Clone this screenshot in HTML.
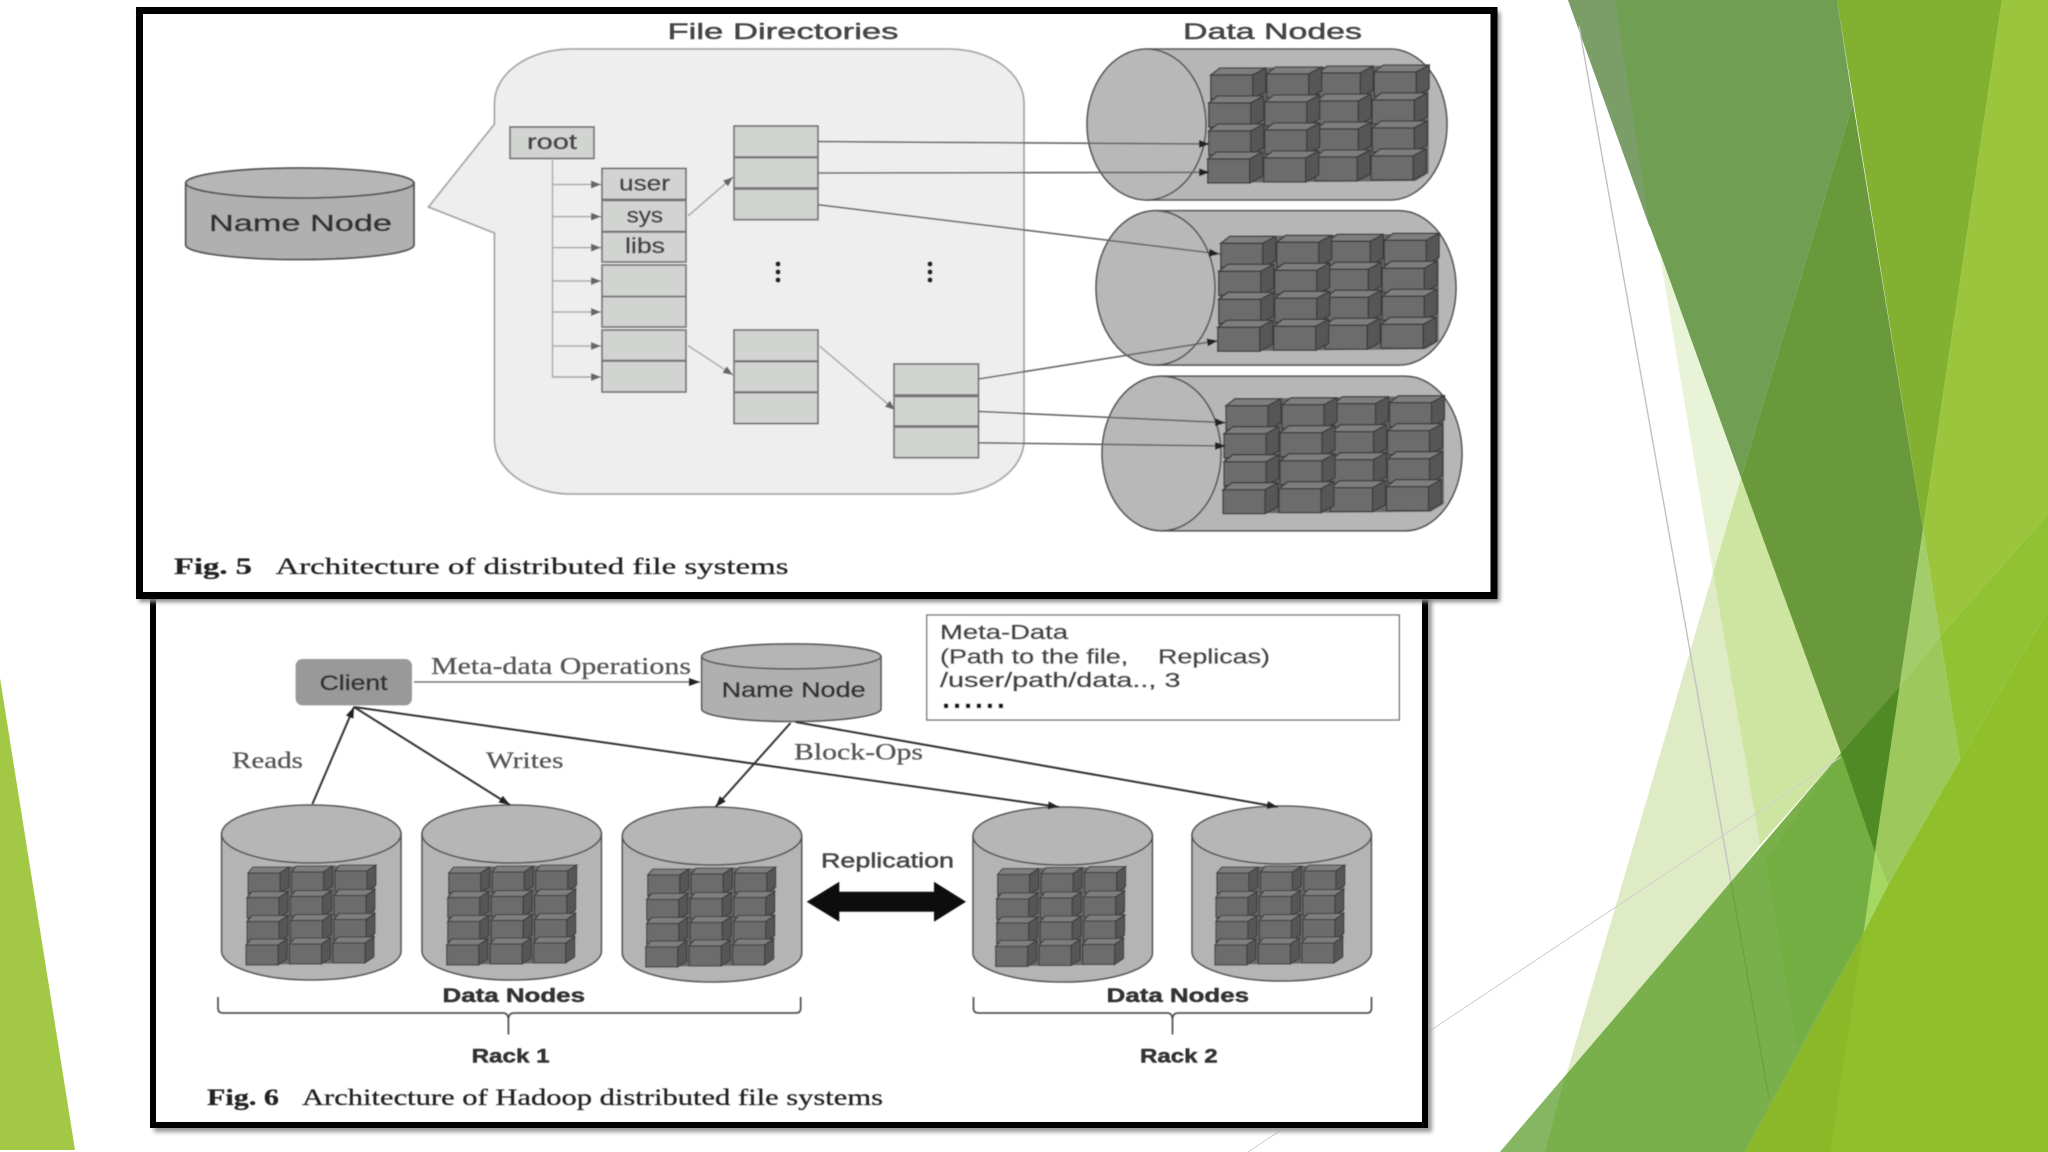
<!DOCTYPE html>
<html><head><meta charset="utf-8"><style>
html,body{margin:0;padding:0;background:#fff;width:2048px;height:1152px;overflow:hidden}
svg{display:block}
.s{font-family:"Liberation Sans",sans-serif;stroke:currentColor;stroke-width:.45}
.t{font-family:"Liberation Serif",serif;stroke:currentColor;stroke-width:.25}
</style></head><body>
<svg xmlns="http://www.w3.org/2000/svg" width="2048" height="1152" viewBox="0 0 2048 1152">
<defs>
<filter id="b" x="-5%" y="-5%" width="110%" height="110%"><feGaussianBlur stdDeviation="0.55"/></filter>
<filter id="sh" x="-5%" y="-5%" width="110%" height="110%"><feGaussianBlur stdDeviation="2"/></filter>
<marker id="a" markerUnits="userSpaceOnUse" markerWidth="12" markerHeight="10" refX="10" refY="4" orient="auto"><path d="M0 0L10 4L0 8Z" fill="#666"/></marker>
<marker id="d" markerUnits="userSpaceOnUse" markerWidth="14" markerHeight="10" refX="11" refY="4" orient="auto"><path d="M0 0L11 4L0 8Z" fill="#222"/></marker>
<g id="c1" stroke="#3c3c3c" stroke-width="1.3"><path d="M0 0L9 -7H55L42 0Z" fill="#7e7e7e"/><path d="M42 0L55 -7V17L42 24Z" fill="#565656"/><rect width="42" height="24" fill="#6c6c6c"/></g>
<g id="c2" stroke="#3c3c3c" stroke-width="1.1"><path d="M0 0L5 -6H41L32 0Z" fill="#7e7e7e"/><path d="M32 0L41 -6V14L32 20Z" fill="#565656"/><rect width="32" height="20" fill="#6c6c6c"/></g>
<g id="g1">
<polygon points="0,0 9,-7 218,-10 218,98 205,106 -3,108" fill="#686868"/>
<use href="#c1" x="163.5" y="-3"/><use href="#c1" x="107.5" y="-2"/><use href="#c1" x="56" y="-1"/><use href="#c1" x="0" y="0"/>
<use href="#c1" x="161.5" y="25"/><use href="#c1" x="105.5" y="26"/><use href="#c1" x="54" y="27"/><use href="#c1" x="-2" y="28"/>
<use href="#c1" x="161.5" y="53"/><use href="#c1" x="105.5" y="54"/><use href="#c1" x="54" y="55"/><use href="#c1" x="-2" y="56"/>
<use href="#c1" x="160.5" y="81"/><use href="#c1" x="104.5" y="82"/><use href="#c1" x="53" y="83"/><use href="#c1" x="-3" y="84"/>
</g>
<g id="g2">
<polygon points="0,0 5,-6 128,-8 126,84 117,90 -2,92" fill="#686868"/>
<use href="#c2" x="87" y="-2"/><use href="#c2" x="43.5" y="-1"/><use href="#c2" x="0" y="0"/>
<use href="#c2" x="86" y="22.5"/><use href="#c2" x="42.5" y="23.5"/><use href="#c2" x="-1" y="24.5"/>
<use href="#c2" x="86" y="46.5"/><use href="#c2" x="42.5" y="47.5"/><use href="#c2" x="-1" y="48.5"/>
<use href="#c2" x="85" y="70"/><use href="#c2" x="41.5" y="71"/><use href="#c2" x="-2" y="72"/>
</g>
<g id="hc" fill="#b6b6b6" stroke="#555" stroke-width="1.6">
<path d="M59.5 0H303A57 75.5 0 0 1 303 151H59.5Z"/>
<ellipse cx="59.5" cy="75.5" rx="59.5" ry="75.5" fill="#b8b8b8"/>
</g>
<g id="vc" fill="#b4b4b4" stroke="#555" stroke-width="1.6">
<path d="M0 29V146A89.7 29 0 0 0 179.4 146V29Z"/>
<ellipse cx="89.7" cy="29" rx="89.7" ry="29" fill="#b6b6b6"/>
</g>
</defs>

<!-- left triangle -->
<polygon points="0,678 75,1150 0,1150" fill="#a2c845"/>

<!-- green facets -->
<g>
<polygon points="1568,0 1837,0 1853,103 1741,478" fill="#709f54"/>
<polygon points="1568,0 1615,0 1650,228" fill="#7b9e69"/>
<polygon points="1853,103 1923,529 1875,852 1741,478" fill="#6a993c"/>
<polygon points="1837,0 2002,0 1923,529" fill="#82b030"/>
<polygon points="2002,0 2048,0 2048,514 1940,636 1923,529" fill="#9ac53c"/>
<polygon points="1940,636 2048,514 2048,610 1960,760" fill="#90c234"/>
<polygon points="1923,529 1940,636 1899.5,687" fill="#a3cc6b"/>
<polygon points="1899.5,687 1940,636 1960,760 1888,885 1875,852" fill="#9cc85c"/>
<polygon points="1875,852 1888,885 1863.5,933" fill="#a5d763"/>
<polygon points="1659,250 1741,478 1713,573" fill="#e9f3d8"/>
<polygon points="1741,478 1841,753 1760,845 1713,573" fill="#cde5a0"/>
<polygon points="1713,573 1760,845 1731,882 1566,1076" fill="#dfebc4"/>
<polygon points="1500,1152 1841,753 1875,852 1863.5,933 1745,1152" fill="#7ab04c"/>
<polygon points="1766,860 1841,753 1875,852 1863.5,933 1797,1047" fill="#72ae42"/>
<polygon points="1500,1152 1565,1076 1545,1152" fill="#86b662"/>
<polygon points="1841,753 1899.5,687 1875,852" fill="#4f8a24"/>
<polygon points="1745,1152 1863.5,933 1888,885 1960,760 2048,610 2048,1152" fill="#8fc02c"/>
<polygon points="1745,1152 1863.5,933 1830,1152" fill="#8ab829"/>
</g>
<g fill="none">
<line x1="1579" y1="26" x2="1731" y2="882" stroke="#c2c2c2" stroke-width="1.4"/>
<line x1="1731" y1="882" x2="1769" y2="1098" stroke="#6ea040" stroke-width="1.4"/>
<line x1="1248" y1="1152" x2="1841" y2="757" stroke="#cfcfcf" stroke-width="1"/>
</g>

<!-- Frame 2 -->
<rect x="154" y="594" width="1278" height="538" fill="#999" filter="url(#sh)"/>
<rect x="153" y="585" width="1272" height="540" fill="#fff" stroke="#000" stroke-width="6"/>

<g filter="url(#b)">
<rect x="295.6" y="659" width="116.4" height="46.4" rx="7" fill="#999"/>
<text class="s" x="319.6" y="690" font-size="21" fill="#333" color="#333" textLength="68" lengthAdjust="spacingAndGlyphs">Client</text>
<text class="t" x="431" y="674" font-size="24" fill="#555" color="#555" textLength="260" lengthAdjust="spacingAndGlyphs">Meta-data Operations</text>
<line x1="414" y1="682" x2="700" y2="682" stroke="#777" stroke-width="1.6" marker-end="url(#d)"/>

<path d="M701.7 656.4V709A89.6 12.5 0 0 0 881 709V656.4Z" fill="#b0b0b0" stroke="#555" stroke-width="1.6"/>
<ellipse cx="791.3" cy="656.4" rx="89.6" ry="12.5" fill="#b4b4b4" stroke="#555" stroke-width="1.6"/>
<text class="s" x="721.6" y="697" font-size="21" fill="#333" color="#333" textLength="144" lengthAdjust="spacingAndGlyphs">Name Node</text>

<rect x="926.8" y="615" width="472.5" height="105" fill="#fff" stroke="#777" stroke-width="1.4"/>
<g class="s" font-size="20" fill="#444" color="#444">
<text x="940" y="639" textLength="128" lengthAdjust="spacingAndGlyphs">Meta-Data</text>
<text x="940" y="663.5" textLength="330" lengthAdjust="spacingAndGlyphs" xml:space="preserve">(Path to the file,    Replicas)</text>
<text x="940" y="687" textLength="240.5" lengthAdjust="spacingAndGlyphs">/user/path/data.., 3</text>
<text x="943" y="707.5" font-weight="bold" font-size="22" fill="#111" color="#111" style="stroke-width:1.2" textLength="61" lengthAdjust="spacing">......</text>
</g>

<use href="#vc" x="221.6" y="805"/>
<use href="#vc" x="422" y="805"/>
<use href="#vc" x="622.3" y="807"/>
<use href="#vc" x="973" y="807"/>
<use href="#vc" x="1192" y="806"/>
<use href="#g2" x="248" y="873"/>
<use href="#g2" x="448.7" y="873"/>
<use href="#g2" x="647.7" y="875"/>
<use href="#g2" x="997.6" y="874.5"/>
<use href="#g2" x="1216.9" y="873"/>

<g stroke="#333" stroke-width="2" fill="none">
<line x1="312.4" y1="804" x2="354" y2="707" marker-end="url(#d)"/>
<line x1="354" y1="707" x2="510" y2="805" marker-end="url(#d)"/>
<line x1="354" y1="707" x2="1059" y2="807" marker-end="url(#d)"/>
<line x1="790.5" y1="723" x2="715.5" y2="807" marker-end="url(#d)"/>
<line x1="795.6" y1="722" x2="1278" y2="807" marker-end="url(#d)"/>
</g>
<g class="t" font-size="23" fill="#555" color="#555">
<text x="232" y="768" textLength="71" lengthAdjust="spacingAndGlyphs">Reads</text>
<text x="486" y="768" textLength="77.5" lengthAdjust="spacingAndGlyphs">Writes</text>
<text x="794" y="759.5" textLength="129" lengthAdjust="spacingAndGlyphs">Block-Ops</text>
</g>
<text class="s" x="821" y="867.7" font-size="20" fill="#444" color="#444" textLength="133" lengthAdjust="spacingAndGlyphs">Replication</text>
<polygon points="806.7,901.7 839.3,881.7 839.3,891.7 934,891.7 934,881.7 966,901.7 934,921.7 934,911.7 839.3,911.7 839.3,921.7" fill="#111"/>

<g class="s" font-weight="bold" fill="#333" color="#333" font-size="19">
<text x="442.5" y="1002" textLength="142.5" lengthAdjust="spacingAndGlyphs">Data Nodes</text>
<text x="1106.7" y="1002" textLength="142.3" lengthAdjust="spacingAndGlyphs">Data Nodes</text>
<text x="471.6" y="1062.5" textLength="78" lengthAdjust="spacingAndGlyphs">Rack 1</text>
<text x="1140" y="1062.5" textLength="77.6" lengthAdjust="spacingAndGlyphs">Rack 2</text>
</g>
<g fill="none" stroke="#555" stroke-width="1.8">
<path d="M218 997V1008Q218 1013 223 1013H503Q508.4 1013 508.4 1020V1034.5M508.4 1020Q508.4 1013 514 1013H796Q800.7 1013 800.7 1008V997"/>
<path d="M973.5 997V1008Q973.5 1013 978.5 1013H1167Q1172.5 1013 1172.5 1020V1034.5M1172.5 1020Q1172.5 1013 1178 1013H1367Q1371.5 1013 1371.5 1008V997"/>
</g>
<g class="t" font-size="23" fill="#222" color="#222">
<text x="207" y="1105" font-weight="bold" textLength="72" lengthAdjust="spacingAndGlyphs">Fig. 6</text>
<text x="302" y="1105" textLength="581" lengthAdjust="spacingAndGlyphs">Architecture of Hadoop distributed file systems</text>
</g>
</g>

<!-- Frame 1 -->
<rect x="139" y="12" width="1361" height="590" fill="#888" filter="url(#sh)"/>
<rect x="139.5" y="10.5" width="1354.5" height="585" fill="#fff" stroke="#000" stroke-width="7"/>

<g filter="url(#b)">
<g class="s" font-size="22" fill="#444" color="#444">
<text x="667.5" y="39" textLength="231" lengthAdjust="spacingAndGlyphs">File Directories</text>
<text x="1183" y="39" textLength="179" lengthAdjust="spacingAndGlyphs">Data Nodes</text>
</g>

<path d="M494.5 124V103A77 54 0 0 1 571.5 49H949A75 54 0 0 1 1024 103V440A75 54 0 0 1 949 494H571.5A77 54 0 0 1 494.5 440V233L428.5 207Z" fill="#eeeeee" stroke="#a8a8a8" stroke-width="1.8"/>

<path d="M185.7 183V245A114 14.5 0 0 0 414 245V183Z" fill="#b0b0b0" stroke="#555" stroke-width="1.8"/>
<ellipse cx="299.8" cy="183" rx="114" ry="15" fill="#b6b6b6" stroke="#555" stroke-width="1.8"/>
<text class="s" x="209" y="231" font-size="23" fill="#333" color="#333" textLength="183" lengthAdjust="spacingAndGlyphs">Name Node</text>

<g fill="#d2d4d2" stroke="#777" stroke-width="1.8">
<rect x="510" y="127" width="84" height="31.5"/>
<rect x="602" y="168.4" width="84" height="31"/>
<rect x="602" y="200.5" width="84" height="31"/>
<rect x="602" y="232" width="84" height="30"/>
<rect x="602" y="265" width="84" height="31.6"/>
<rect x="602" y="296.6" width="84" height="30.4"/>
<rect x="602" y="330" width="84" height="30.5"/>
<rect x="602" y="361" width="84" height="31"/>
<rect x="734" y="126" width="84" height="31"/>
<rect x="734" y="157.6" width="84" height="30.4"/>
<rect x="734" y="189" width="84" height="30.7"/>
<rect x="734" y="330" width="84" height="31"/>
<rect x="734" y="361.6" width="84" height="30.4"/>
<rect x="734" y="392.6" width="84" height="31"/>
<rect x="894" y="364" width="84.5" height="31"/>
<rect x="894" y="396.5" width="84.5" height="29.5"/>
<rect x="894" y="427" width="84.5" height="30.7"/>
</g>
<g class="s" font-size="21" fill="#444" color="#444">
<text x="527" y="149" textLength="50" lengthAdjust="spacingAndGlyphs">root</text>
<text x="619" y="190.5" textLength="51" lengthAdjust="spacingAndGlyphs">user</text>
<text x="626.6" y="222.5" textLength="36.5" lengthAdjust="spacingAndGlyphs">sys</text>
<text x="625" y="253" textLength="40" lengthAdjust="spacingAndGlyphs">libs</text>
</g>
<g stroke="#aaa" stroke-width="1.5" fill="none">
<polyline points="552.5,158.5 552.5,377 590,377"/>
</g>
<g stroke="#aaa" stroke-width="1.5" fill="none">
<line x1="552.5" y1="184.5" x2="601" y2="184.5" marker-end="url(#a)"/>
<line x1="552.5" y1="216.6" x2="601" y2="216.6" marker-end="url(#a)"/>
<line x1="552.5" y1="247.6" x2="601" y2="247.6" marker-end="url(#a)"/>
<line x1="552.5" y1="281" x2="601" y2="281" marker-end="url(#a)"/>
<line x1="552.5" y1="312" x2="601" y2="312" marker-end="url(#a)"/>
<line x1="552.5" y1="346" x2="601" y2="346" marker-end="url(#a)"/>
<line x1="552.5" y1="377" x2="601" y2="377" marker-end="url(#a)"/>
<line x1="688" y1="216" x2="733" y2="177" marker-end="url(#a)"/>
<line x1="688" y1="345.6" x2="733" y2="375" marker-end="url(#a)"/>
<line x1="819.5" y1="346" x2="895" y2="410" marker-end="url(#a)"/>
</g>
<g fill="#222">
<circle cx="778" cy="264" r="2.6"/><circle cx="778" cy="272" r="2.6"/><circle cx="778" cy="280" r="2.6"/>
<circle cx="930" cy="264" r="2.6"/><circle cx="930" cy="272" r="2.6"/><circle cx="930" cy="280" r="2.6"/>
</g>

<use href="#hc" x="1087" y="49"/>
<use href="#hc" transform="translate(1096 210.7) scale(1 1.022)"/>
<use href="#hc" transform="translate(1102 376.2) scale(1 1.024)"/>
<use href="#g1" x="1210.7" y="75"/>
<use href="#g1" x="1220.7" y="243.3"/>
<use href="#g1" x="1226" y="405.7"/>

<g stroke="#666" stroke-width="1.6" fill="none">
<line x1="818" y1="141.6" x2="1210" y2="144" marker-end="url(#d)"/>
<line x1="818" y1="173" x2="1210" y2="172.3" marker-end="url(#d)"/>
<line x1="818" y1="204.7" x2="1220" y2="254" marker-end="url(#d)"/>
<line x1="978.5" y1="379" x2="1218" y2="340.7" marker-end="url(#d)"/>
<line x1="978.5" y1="411.4" x2="1226" y2="422.7" marker-end="url(#d)"/>
<line x1="978.5" y1="442.8" x2="1226" y2="446" marker-end="url(#d)"/>
</g>

<g class="t" font-size="23" fill="#222" color="#222">
<text x="174" y="574" font-weight="bold" textLength="78" lengthAdjust="spacingAndGlyphs">Fig. 5</text>
<text x="275.5" y="574" textLength="513" lengthAdjust="spacingAndGlyphs">Architecture of distributed file systems</text>
</g>
</g>
</svg>
</body></html>
